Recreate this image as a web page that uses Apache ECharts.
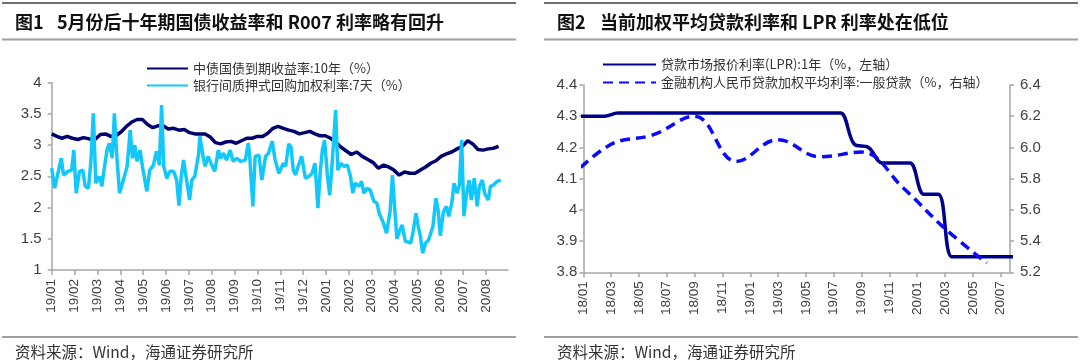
<!DOCTYPE html>
<html><head><meta charset="utf-8">
<script src="https://cdn.jsdelivr.net/npm/echarts@6/dist/echarts.min.js"></script>
<style>html,body{margin:0;padding:0;background:#fff}#c{width:1080px;height:363px}</style>
</head><body><div id="c"></div>
<script>
// ---------------- Data: Figure 1 ----------------
const leftTickLabels = ['19/01','19/02','19/03','19/04','19/05','19/06','19/07','19/08','19/09','19/10','19/11','19/12','20/01','20/02','20/03','20/04','20/05','20/06','20/07','20/08'];
const yieldName = '中债国债到期收益率:10年（%）';
const r007Name = '银行间质押式回购加权利率:7天（%）';
const yieldDates = ['2019-01-01','2019-01-08','2019-01-15','2019-01-22','2019-01-29','2019-02-05','2019-02-12','2019-02-19','2019-02-26','2019-03-05','2019-03-12','2019-03-19','2019-03-26','2019-04-02','2019-04-09','2019-04-16','2019-04-23','2019-04-30','2019-05-07','2019-05-14','2019-05-21','2019-05-28','2019-06-04','2019-06-11','2019-06-18','2019-06-25','2019-07-02','2019-07-09','2019-07-16','2019-07-23','2019-07-30','2019-08-06','2019-08-13','2019-08-20','2019-08-27','2019-09-03','2019-09-10','2019-09-17','2019-09-24','2019-10-01','2019-10-08','2019-10-15','2019-10-22','2019-10-29','2019-11-05','2019-11-12','2019-11-19','2019-11-26','2019-12-03','2019-12-10','2019-12-17','2019-12-24','2019-12-31','2020-01-07','2020-01-14','2020-01-21','2020-01-28','2020-02-04','2020-02-11','2020-02-18','2020-02-25','2020-03-03','2020-03-10','2020-03-17','2020-03-24','2020-03-31','2020-04-07','2020-04-14','2020-04-21','2020-04-28','2020-05-05','2020-05-12','2020-05-19','2020-05-26','2020-06-02','2020-06-09','2020-06-16','2020-06-23','2020-06-30','2020-07-07','2020-07-14','2020-07-21','2020-07-28','2020-08-04','2020-08-11','2020-08-18'];
const yieldValues = [3.18,3.14,3.11,3.14,3.11,3.09,3.12,3.10,3.09,3.17,3.18,3.14,3.15,3.21,3.30,3.37,3.41,3.41,3.33,3.28,3.31,3.31,3.26,3.27,3.24,3.25,3.20,3.18,3.18,3.18,3.13,3.04,3.02,3.05,3.06,3.03,3.07,3.11,3.11,3.14,3.14,3.19,3.27,3.30,3.27,3.24,3.22,3.18,3.20,3.22,3.18,3.15,3.15,3.11,3.05,2.97,2.91,2.85,2.89,2.82,2.77,2.72,2.63,2.68,2.65,2.60,2.52,2.57,2.55,2.55,2.60,2.65,2.71,2.75,2.82,2.86,2.89,2.94,2.98,3.07,3.02,2.93,2.92,2.94,2.95,2.98];
const r007Dates = ['2019-01-01','2019-01-05','2019-01-10','2019-01-14','2019-01-17','2019-01-23','2019-01-28','2019-01-31','2019-02-03','2019-02-07','2019-02-11','2019-02-14','2019-02-18','2019-02-21','2019-02-24','2019-02-27','2019-03-04','2019-03-07','2019-03-10','2019-03-14','2019-03-17','2019-03-21','2019-03-24','2019-03-27','2019-03-31','2019-04-05','2019-04-10','2019-04-14','2019-04-17','2019-04-20','2019-04-23','2019-04-27','2019-04-30','2019-05-06','2019-05-10','2019-05-15','2019-05-19','2019-05-23','2019-05-26','2019-05-29','2019-06-02','2019-06-06','2019-06-11','2019-06-15','2019-06-18','2019-06-21','2019-06-24','2019-06-28','2019-07-02','2019-07-05','2019-07-09','2019-07-14','2019-07-16','2019-07-20','2019-07-23','2019-07-27','2019-08-01','2019-08-05','2019-08-10','2019-08-13','2019-08-17','2019-08-21','2019-08-26','2019-08-30','2019-09-04','2019-09-09','2019-09-15','2019-09-19','2019-09-21','2019-09-25','2019-09-28','2019-10-03','2019-10-07','2019-10-12','2019-10-16','2019-10-21','2019-10-25','2019-10-30','2019-11-05','2019-11-08','2019-11-12','2019-11-15','2019-11-18','2019-11-21','2019-11-25','2019-11-29','2019-12-04','2019-12-09','2019-12-13','2019-12-17','2019-12-21','2019-12-24','2019-12-27','2019-12-30','2020-01-03','2020-01-06','2020-01-09','2020-01-14','2020-01-17','2020-01-21','2020-01-25','2020-01-30','2020-02-03','2020-02-06','2020-02-09','2020-02-14','2020-02-17','2020-02-20','2020-02-24','2020-02-28','2020-03-04','2020-03-08','2020-03-11','2020-03-17','2020-03-21','2020-03-26','2020-03-29','2020-04-04','2020-04-08','2020-04-11','2020-04-15','2020-04-18','2020-04-22','2020-04-25','2020-04-29','2020-05-02','2020-05-05','2020-05-08','2020-05-12','2020-05-16','2020-05-19','2020-05-22','2020-05-26','2020-05-29','2020-06-01','2020-06-05','2020-06-09','2020-06-12','2020-06-16','2020-06-19','2020-06-23','2020-06-26','2020-06-29','2020-07-02','2020-07-05','2020-07-09','2020-07-12','2020-07-16','2020-07-20','2020-07-23','2020-07-27','2020-07-30','2020-08-04','2020-08-07','2020-08-11','2020-08-16','2020-08-21'];
const r007Values = [2.63,2.31,2.58,2.79,2.52,2.58,2.60,2.92,2.23,2.58,2.60,2.34,2.31,2.74,3.51,2.39,2.50,2.34,2.60,2.92,3.03,2.79,3.51,2.87,2.23,2.44,2.66,3.24,2.79,3.00,2.74,2.92,2.66,2.26,2.60,2.68,2.90,2.68,3.64,2.66,2.47,2.58,2.58,2.44,2.03,2.50,2.76,2.44,2.12,2.44,2.50,2.84,3.14,2.84,2.66,2.82,2.68,2.58,2.92,2.79,2.87,2.76,2.92,2.74,2.79,2.74,2.76,3.03,2.79,2.02,2.82,2.84,2.44,2.82,2.87,3.06,2.76,2.55,2.71,2.66,3.02,2.97,2.60,2.52,2.68,2.82,2.47,2.50,2.55,2.71,1.99,2.55,2.92,3.08,2.50,2.20,2.66,3.56,2.60,2.71,2.66,2.68,2.50,2.23,2.39,2.34,2.42,2.23,2.31,2.28,2.10,2.07,1.91,1.75,1.59,1.95,2.52,1.50,1.64,1.72,1.46,1.45,1.43,1.59,1.91,1.70,1.54,1.27,1.43,1.48,1.59,1.70,2.15,1.96,1.55,1.93,2.02,1.86,2.07,2.39,2.23,2.36,3.08,1.86,2.18,2.44,2.12,2.47,2.02,2.34,2.44,2.23,2.12,2.34,2.36,2.42,2.44];

// ---------------- Data: Figure 2 ----------------
const rightTickLabels = ['18/01','18/03','18/05','18/07','18/09','18/11','19/01','19/03','19/05','19/07','19/09','19/11','20/01','20/03','20/05','20/07'];
const lprName = '贷款市场报价利率(LPR):1年（%，左轴）';
const loanName = '金融机构人民币贷款加权平均利率:一般贷款（%，右轴）';
const lprDates = ['2017-12-16','2018-01-16','2018-02-16','2018-03-16','2018-04-16','2018-05-16','2018-06-16','2018-07-16','2018-08-16','2018-09-16','2018-10-16','2018-11-16','2018-12-16','2019-01-16','2019-02-16','2019-03-16','2019-04-16','2019-05-16','2019-06-16','2019-07-16','2019-08-16','2019-09-16','2019-10-16','2019-11-16','2019-12-16','2020-01-16','2020-02-16','2020-03-16','2020-04-16','2020-05-16','2020-06-16','2020-07-16','2020-08-16'];
const lprValues = [4.30,4.30,4.30,4.31,4.31,4.31,4.31,4.31,4.31,4.31,4.31,4.31,4.31,4.31,4.31,4.31,4.31,4.31,4.31,4.31,4.21,4.20,4.15,4.15,4.15,4.05,4.05,3.85,3.85,3.85,3.85,3.85,3.85];
const loanDates = ['2017-12-01','2018-03-01','2018-06-01','2018-09-01','2018-12-01','2019-03-01','2019-06-01','2019-09-01','2019-12-01','2020-03-01','2020-06-01'];
const loanValues = [5.80,6.02,6.08,6.20,5.91,6.05,5.94,5.97,5.74,5.48,5.26];

// ---------------- helpers ----------------
function monthIndex(s, y0, m0) {
  const p = s.split('-').map(Number);
  const dim = new Date(p[0], p[1], 0).getDate();
  return (p[0] - y0) * 12 + (p[1] - m0) + (p[2] - 1) / dim;
}
const pairs = (dates, vals, y0) => dates.map((d, i) => [monthIndex(d, y0, 1), vals[i]]);

const LAT = '"Liberation Sans", Arial, "Noto Sans CJK SC", sans-serif';
const CJK = '"Noto Sans CJK SC", "Liberation Sans", sans-serif';
const axisGray = '#a6a6a6';
const labelColor = '#404040';

const leftTicks = leftTickLabels.map((_, i) => i);
const rightTicks = rightTickLabels.map((_, i) => i * 2);

function xAxisCfg(grid, max, ticks, fmt) {
  return {
    gridIndex: grid, type: 'value', min: 0, max: max,
    axisLine: {show: true, onZero: false, lineStyle: {color: axisGray, width: 1.5}},
    axisTick: {show: true, customValues: ticks, length: 5, lineStyle: {color: axisGray, width: 1.5}},
    axisLabel: {customValues: ticks, formatter: fmt, rotate: 90, margin: 9, fontSize: 13.5, color: labelColor, fontFamily: LAT},
    splitLine: {show: false}
  };
}
function yAxisCfg(grid, min, max, interval, pos, margin, fmt) {
  const a = {
    gridIndex: grid, type: 'value', min: min, max: max, interval: interval, position: pos,
    axisLine: {show: true, lineStyle: {color: axisGray, width: 1.5}},
    axisTick: {show: true, length: 4, lineStyle: {color: axisGray, width: 1.5}},
    axisLabel: {margin: margin, fontSize: 15, color: labelColor, fontFamily: LAT},
    splitLine: {show: false}
  };
  if (fmt) a.axisLabel.formatter = fmt;
  return a;
}

const legendBase = {
  orient: 'vertical', itemHeight: 14, selectedMode: false,
  itemStyle: {opacity: 0, borderWidth: 0},
  textStyle: {fontSize: 13, color: '#333', fontFamily: CJK}
};

const chart = echarts.init(document.getElementById('c'), null, {renderer: 'canvas', width: 1080, height: 363});
const option = {
  animation: false,
  backgroundColor: '#ffffff',
  grid: [
    {left: 51.7, top: 82.7, width: 456.3, height: 187.3},
    {left: 583.3, top: 85, width: 426.7, height: 187.3}
  ],
  xAxis: [
    xAxisCfg(0, 19.96, leftTicks, v => leftTickLabels[Math.round(v)] || ''),
    xAxisCfg(1, 30.67, rightTicks, v => rightTickLabels[Math.round(v / 2)] || '')
  ],
  yAxis: [
    yAxisCfg(0, 1, 4, 0.5, 'left', 10),
    yAxisCfg(1, 3.8, 4.4, 0.1, 'left', 6),
    yAxisCfg(1, 5.2, 6.4, 0.2, 'right', 10, v => v.toFixed(1))
  ],
  legend: [
    Object.assign({}, legendBase, {data: [yieldName, r007Name], left: 141, top: 57, itemWidth: 41, itemGap: 4}),
    Object.assign({}, legendBase, {data: [lprName, loanName], left: 597, top: 53, itemWidth: 53, itemGap: 5})
  ],
  series: [
    {name: yieldName, type: 'line', xAxisIndex: 0, yAxisIndex: 0, data: pairs(yieldDates, yieldValues, 2019),
     symbol: 'none', showSymbol: false, lineStyle: {color: '#00006e', width: 3.5}, itemStyle: {color: '#00006e'}},
    {name: r007Name, type: 'line', xAxisIndex: 0, yAxisIndex: 0, data: pairs(r007Dates, r007Values, 2019),
     symbol: 'none', showSymbol: false, lineStyle: {color: '#12c8fa', width: 3.5}, itemStyle: {color: '#12c8fa'}},
    {name: lprName, type: 'line', xAxisIndex: 1, yAxisIndex: 1, data: pairs(lprDates, lprValues, 2018), smooth: 0.35,
     symbol: 'none', showSymbol: false, lineStyle: {color: '#00008c', width: 3.5}, itemStyle: {color: '#00008c'}},
    {name: loanName, type: 'line', xAxisIndex: 1, yAxisIndex: 2, data: pairs(loanDates, loanValues, 2018), smooth: 0.4,
     symbol: 'none', showSymbol: false, lineStyle: {color: '#0a0aff', width: 3.5, type: [10, 6]}, itemStyle: {color: '#0a0aff'}}
  ],
  graphic: [
    {type: 'line', shape: {x1: 2, y1: 3, x2: 516, y2: 3}, style: {stroke: '#707070', lineWidth: 2}},
    {type: 'line', shape: {x1: 2, y1: 39.5, x2: 516, y2: 39.5}, style: {stroke: '#a0a0a0', lineWidth: 2}},
    {type: 'line', shape: {x1: 2, y1: 337, x2: 516, y2: 337}, style: {stroke: '#a0a0a0', lineWidth: 2}},
    {type: 'line', shape: {x1: 544, y1: 3, x2: 1078, y2: 3}, style: {stroke: '#707070', lineWidth: 2}},
    {type: 'line', shape: {x1: 544, y1: 39.5, x2: 1078, y2: 39.5}, style: {stroke: '#a0a0a0', lineWidth: 2}},
    {type: 'line', shape: {x1: 544, y1: 337, x2: 1078, y2: 337}, style: {stroke: '#a0a0a0', lineWidth: 2}},
    {type: 'text', x: 15, y: 22, style: {text: '图1', font: 'bold 18px ' + CJK, fill: '#111', verticalAlign: 'middle'}},
    {type: 'text', x: 57, y: 22, style: {text: '5月份后十年期国债收益率和 R007 利率略有回升', font: 'bold 18px ' + CJK, fill: '#111', verticalAlign: 'middle'}},
    {type: 'text', x: 557, y: 22, style: {text: '图2', font: 'bold 18px ' + CJK, fill: '#111', verticalAlign: 'middle'}},
    {type: 'text', x: 600, y: 22, style: {text: '当前加权平均贷款利率和 LPR 利率处在低位', font: 'bold 18px ' + CJK, fill: '#111', verticalAlign: 'middle'}},
    {type: 'text', x: 15, y: 352, style: {text: '资料来源：Wind，海通证券研究所', font: '15.5px ' + CJK, fill: '#333', verticalAlign: 'middle'}},
    {type: 'text', x: 557, y: 352, style: {text: '资料来源：Wind，海通证券研究所', font: '15.5px ' + CJK, fill: '#333', verticalAlign: 'middle'}}
  ]
};
chart.setOption(option);
</script>
</body></html>
